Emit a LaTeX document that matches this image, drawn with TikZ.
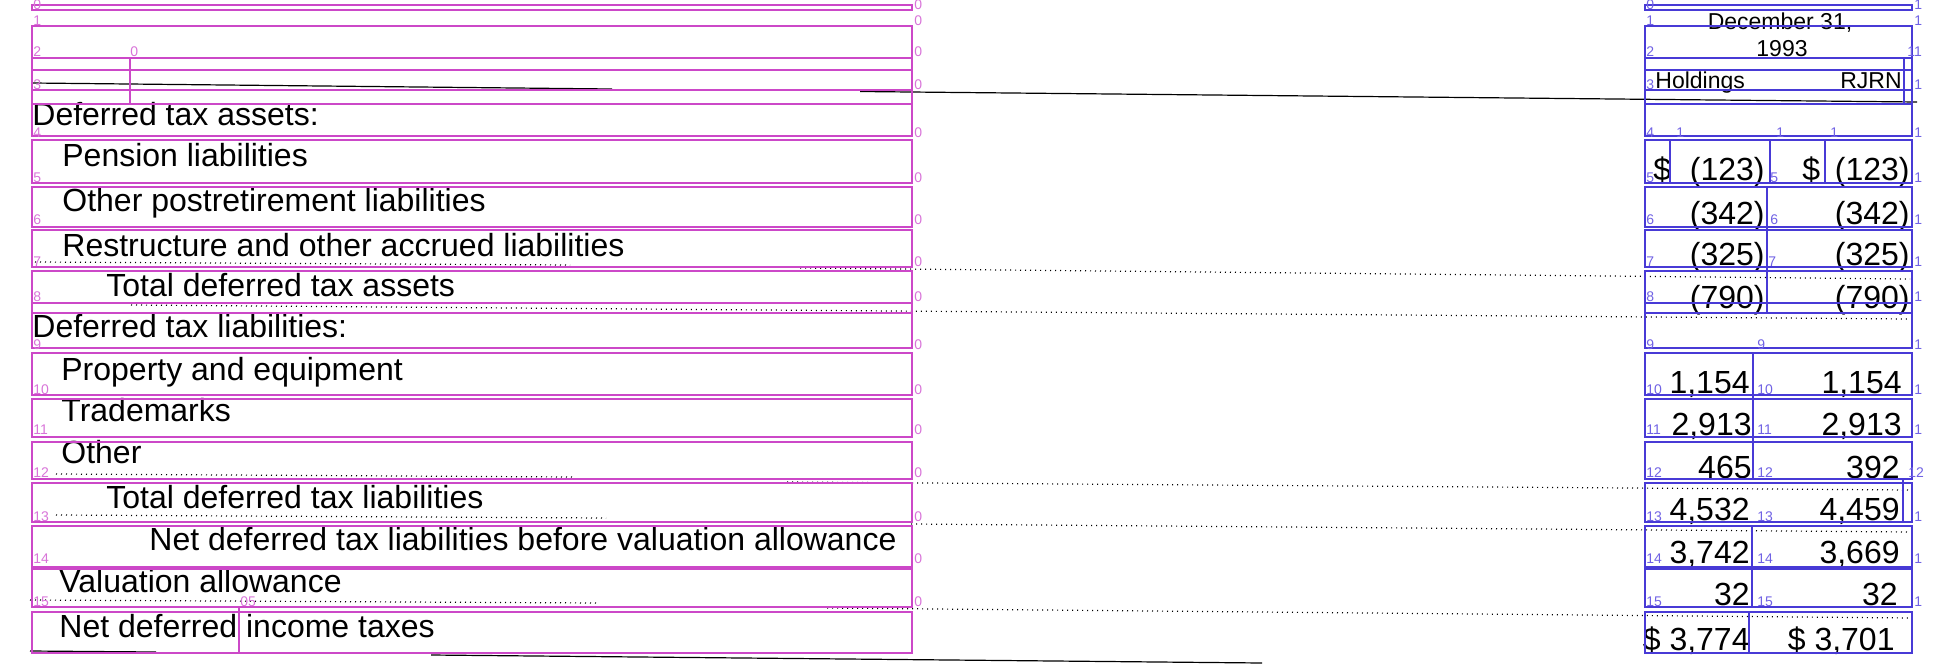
\documentclass[tikz,border=0pt]{standalone}
\usepackage{fontspec}
\setmainfont{Liberation Sans}
\usetikzlibrary{positioning}
\definecolor{boxmag}{RGB}{204,72,200}
\definecolor{labmag}{RGB}{216,116,216}
\definecolor{boxblu}{RGB}{72,58,214}
\definecolor{labblu}{RGB}{112,98,228}

\tikzset{
  mbox/.style={draw=boxmag, line width=1.4pt},
  bbox/.style={draw=boxblu, line width=1.4pt},
  mlab/.style={text=labmag, font=\fontsize{7}{7}\selectfont, inner sep=0pt, anchor=west},
  blab/.style={text=labblu, font=\fontsize{7}{7}\selectfont, inner sep=0pt, anchor=west},
  rowtxt/.style={font=\fontsize{16}{18}\selectfont, inner sep=0pt, anchor=base west},
  numtxt/.style={font=\fontsize{16}{18}\selectfont, inner sep=0pt, anchor=base east},
  hdtxt/.style={font=\fontsize{11.5}{13}\selectfont, inner sep=0pt},
  leader/.style={line width=0.6pt, dash pattern=on 0.5pt off 2pt},
  scanrule/.style={line width=0.6pt},
}

\begin{document}
\begin{tikzpicture}[x=0.5pt, y=-0.5pt]
  \useasboundingbox (0,0) rectangle (1958,664);
  % Rules and leaders of the scan
  \draw[scanrule] (32,83) -- (612,89);
  \draw[scanrule] (860,91.5) -- (1917,102);
  \draw[leader] (35,262) -- (570,265);
  \draw[leader] (800,268) -- (1910,279);
  \draw[leader] (131,305) -- (1907,319);
  \draw[leader] (56,474) -- (572,477);
  \draw[leader] (787,482) -- (1910,490);
  \draw[leader] (56,515) -- (606,518);
  \draw[leader] (911,524) -- (1910,532);
  \draw[leader] (30,600) -- (597,603);
  \draw[leader] (827,608) -- (1910,618);
  \draw[scanrule] (30,651) -- (156,652);
  \draw[scanrule] (431,655) -- (1262,663);
  % Column heading
  \node[hdtxt, anchor=base] (dec) at (1780,29) {December 31,};
  \node[hdtxt, anchor=base] (yr) at (1782,56) {1993};
  \node[hdtxt, anchor=base west] (hold) at (1655,88) {Holdings};
  \node[hdtxt, anchor=base east] (rjrn) at (1902,88) {RJRN};
  % Row captions
  \node[rowtxt] (dta) at (32,125) {Deferred tax assets:};
  \node[rowtxt] (pens) at (62,166) {Pension liabilities};
  \node[rowtxt] (post) at (62,211) {Other postretirement liabilities};
  \node[rowtxt] (rest) at (62,256) {Restructure and other accrued liabilities};
  \node[rowtxt] (tdta) at (106,296) {Total deferred tax assets};
  \node[rowtxt] (dtl) at (32,337) {Deferred tax liabilities:};
  \node[rowtxt] (prop) at (61,380) {Property and equipment};
  \node[rowtxt] (trad) at (61,421) {Trademarks};
  \node[rowtxt] (oth) at (61,463) {Other};
  \node[rowtxt] (tdtl) at (106,508) {Total deferred tax liabilities};
  \node[rowtxt] (nbva) at (149,550) {Net deferred tax liabilities before valuation allowance};
  \node[rowtxt] (val) at (59,592) {Valuation allowance};
  \node[rowtxt] (net) at (59,637) {Net deferred income taxes};
  % Amounts
  \node[rowtxt] (dola) at (1653,180) {\$};
  \node[rowtxt] (dolb) at (1802,180) {\$};
  \foreach \nm/\y/\xa/\va/\xb/\vb in {
      pens/180/1765/(123)/1910/(123), post/224/1765/(342)/1910/(342),
      rest/265/1765/(325)/1910/(325), tdta/308/1765/(790)/1910/(790),
      prop/393/1750/{1,154}/1902/{1,154}, trad/435/1752/{2,913}/1902/{2,913},
      oth/478/1752/465/1900/392, tdtl/520/1750/{4,532}/1900/{4,459},
      nbva/563/1750/{3,742}/1900/{3,669}, val/605/1750/32/1898/32,
      net/650/1750/{\$ 3,774}/1895/{\$ 3,701}} {
    \node[numtxt] (\nm-h) at (\xa,\y) {\va};
    \node[numtxt] (\nm-r) at (\xb,\y) {\vb};
  }
  % Boxes
  \foreach \t/\b in {5/10, 26/58, 58/104, 70/90, 104/136, 140/183, 187/227,
      230/267, 271/303, 303/348, 353/395, 399/437, 442/479, 483/522, 526/567,
      569/607, 612/653} {
    \draw[mbox] (32,\t) rectangle (912,\b);
    \draw[bbox] (1645,\t) rectangle (1912,\b);
  }
  \draw[mbox] (32,313) -- (912,313);
  \draw[bbox] (1645,313) -- (1912,313);
  \draw[mbox] (130,58) -- (130,104);
  \draw[mbox] (239,607) -- (239,653);
  \draw[bbox] (1904,58) -- (1904,104);
  \draw[bbox] (1670,140) -- (1670,183);
  \draw[bbox] (1770,140) -- (1770,183);
  \draw[bbox] (1825,140) -- (1825,183);
  \draw[bbox] (1767,187) -- (1767,313);
  \draw[bbox] (1753,353) -- (1753,479);
  \draw[bbox] (1903,479) -- (1903,522);
  \draw[bbox] (1752,526) -- (1752,607);
  \draw[bbox] (1749,612) -- (1749,653);
  % Box numbers
  \foreach \n/\y in {0/5, 1/21, 2/52, 3/85, 4/133, 5/178, 6/220, 7/262, 8/297,
      9/345, 10/390, 11/430, 12/473, 13/517, 14/559, 15/602} {
    \node[mlab] (ml\n) at (33,\y) {\n};
    \node[mlab] (mr\n) at (914,\y) {0};
    \node[blab] (bl\n) at (1646,\y) {\n};
  }
  \foreach \n/\y in {0/5, 1/21, 3/85, 4/133, 5/178, 6/220, 7/262, 8/297,
      9/345, 10/390, 11/430, 13/517, 14/559, 15/602} {
    \node[blab] (br\n) at (1914,\y) {1};
  }
  \node[blab] (br2) at (1907,52) {11};
  \node[blab] (br12) at (1908,473) {12};
  \node[mlab] (mc2) at (130,52) {0};
  \node[mlab] (mc15) at (240,602) {05};
  \foreach \x in {1676,1776,1830} {
    \node[blab] (bs\x) at (\x,133) {1};
  }
  \foreach \n/\x/\y in {5/1770/178, 6/1770/220, 7/1768/262, 9/1757/345,
      10/1757/390, 11/1757/430, 12/1757/473, 13/1757/517, 14/1757/559,
      15/1757/602} {
    \node[blab] (bm\n) at (\x,\y) {\n};
  }
\end{tikzpicture}
\end{document}
